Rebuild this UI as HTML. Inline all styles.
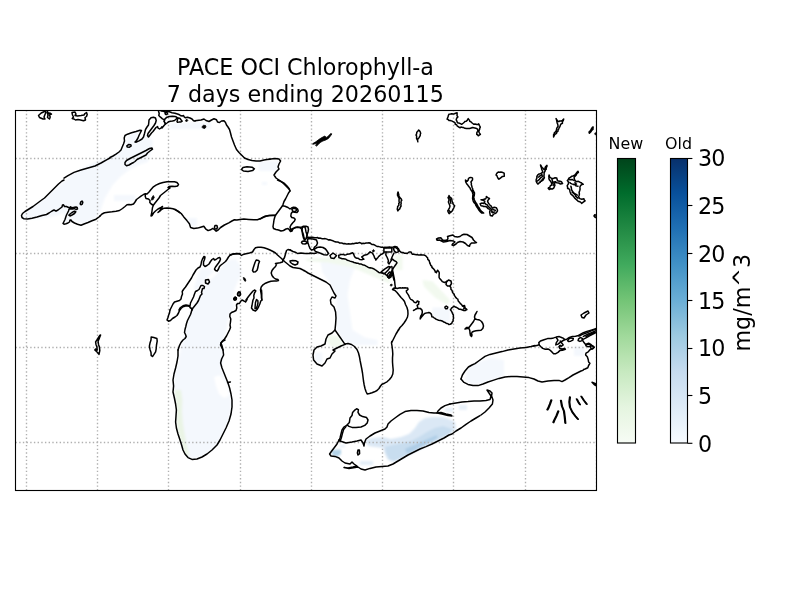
<!DOCTYPE html>
<html lang="en"><head><meta charset="utf-8"><title>PACE OCI Chlorophyll-a</title>
<style>
html,body{margin:0;padding:0;background:#fff;}
body{width:800px;height:600px;overflow:hidden;}
svg{display:block;will-change:transform;}
text{font-family:"DejaVu Sans","Liberation Sans",sans-serif;fill:#000;}
.coast{fill:none;stroke:#000;stroke-width:1.5;stroke-linejoin:round;stroke-linecap:round;}
.grid{stroke:#b0b0b0;stroke-width:1.39;stroke-dasharray:1.39 2.29;fill:none;}
.tick{stroke:#000;stroke-width:1.11;}
.tl{font-size:22.22px;letter-spacing:-0.9px;}
</style></head><body>
<svg width="800" height="600" viewBox="0 0 800 600">
<defs>
<linearGradient id="gB" x1="0" y1="1" x2="0" y2="0"><stop offset="0.0000" stop-color="#f7fbff"/><stop offset="0.0627" stop-color="#eaf3fb"/><stop offset="0.1255" stop-color="#deebf7"/><stop offset="0.1882" stop-color="#d2e3f3"/><stop offset="0.2510" stop-color="#c6dbef"/><stop offset="0.3137" stop-color="#b2d2e8"/><stop offset="0.3765" stop-color="#9dcae1"/><stop offset="0.4392" stop-color="#84bcdb"/><stop offset="0.5020" stop-color="#6aaed6"/><stop offset="0.5647" stop-color="#56a0ce"/><stop offset="0.6275" stop-color="#4191c6"/><stop offset="0.6902" stop-color="#3181bd"/><stop offset="0.7529" stop-color="#2070b4"/><stop offset="0.8157" stop-color="#1460a8"/><stop offset="0.8784" stop-color="#08509b"/><stop offset="0.9412" stop-color="#084082"/><stop offset="1.0000" stop-color="#08306b"/></linearGradient>
<linearGradient id="gG" x1="0" y1="1" x2="0" y2="0"><stop offset="0.0000" stop-color="#f7fcf5"/><stop offset="0.0627" stop-color="#eef8ea"/><stop offset="0.1255" stop-color="#e5f5e0"/><stop offset="0.1882" stop-color="#d6efd0"/><stop offset="0.2510" stop-color="#c7e9c0"/><stop offset="0.3137" stop-color="#b4e1ad"/><stop offset="0.3765" stop-color="#a0d99b"/><stop offset="0.4392" stop-color="#8ace88"/><stop offset="0.5020" stop-color="#73c476"/><stop offset="0.5647" stop-color="#5ab769"/><stop offset="0.6275" stop-color="#40aa5d"/><stop offset="0.6902" stop-color="#319a50"/><stop offset="0.7529" stop-color="#228a44"/><stop offset="0.8157" stop-color="#117b38"/><stop offset="0.8784" stop-color="#006c2c"/><stop offset="0.9412" stop-color="#005723"/><stop offset="1.0000" stop-color="#00441b"/></linearGradient>
<clipPath id="ax"><rect x="15.5" y="110.5" width="581.0" height="380.0"/></clipPath>
<filter id="bl" x="0" y="0" width="800" height="600" filterUnits="userSpaceOnUse"><feGaussianBlur stdDeviation="0.9"/></filter>
</defs>
<rect width="800" height="600" fill="#fff"/>
<text x="305.5" y="75.4" text-anchor="middle" font-size="22.22">PACE OCI Chlorophyll-a</text>
<text x="305.3" y="102.2" text-anchor="middle" font-size="22.22">7 days ending 20260115</text>
<g clip-path="url(#ax)">
<g id="data" filter="url(#bl)">
<path d="M22.0 216.0 L30.0 208.0 L45.0 198.0 L60.0 185.0 L75.0 172.0 L95.0 162.0 L115.0 155.0 L124.0 148.0 L128.0 136.0 L140.0 129.0 L136.0 142.0 L146.0 134.0 L153.0 141.0 L152.0 148.0 L148.0 162.0 L141.0 164.0 L129.0 170.0 L120.0 177.0 L112.0 186.0 L105.0 198.0 L100.0 212.0 L95.0 219.0 L82.0 224.0 L72.0 219.0 L64.0 224.0 L64.0 213.0 L55.0 216.0 L40.0 219.0 L25.0 219.0 Z" fill="#f4f8fd"/>
<path d="M170.0 123.0 L211.0 122.0 L211.0 129.0 L170.0 129.0 Z" fill="#f4f8fd"/>
<path d="M259.0 161.0 L279.0 161.0 L278.0 171.0 L259.0 171.0 Z" fill="#f4f8fd"/>
<path d="M262.0 182.0 L267.0 182.0 L267.0 185.0 L262.0 185.0 Z" fill="#f4f8fd"/>
<path d="M187.0 218.0 L197.0 218.0 L197.0 226.0 L190.0 226.0 Z" fill="#f4f8fd"/>
<path d="M114.0 195.0 L135.0 195.0 L135.0 201.0 L114.0 201.0 Z" fill="#f4f8fd"/>
<path d="M228.0 260.0 L236.0 259.0 L240.0 265.0 L242.0 273.0 L238.0 281.0 L234.0 291.0 L232.0 301.0 L234.0 307.0 L230.0 313.0 L228.0 321.0 L226.0 331.0 L223.0 341.0 L222.0 349.0 L223.0 357.0 L222.0 365.0 L179.0 365.0 L179.0 357.0 L181.0 349.0 L183.0 341.0 L185.0 331.0 L187.0 323.0 L189.6 313.0 L192.4 307.0 L197.0 301.0 L200.0 295.0 L204.0 288.0 L207.0 284.0 L210.0 280.0 L216.0 275.0 L220.0 269.0 L224.0 264.0 Z" fill="#f4f8fd"/>
<path d="M200.0 269.0 L208.0 268.0 L214.0 271.0 L208.0 277.0 L204.0 283.0 L200.0 287.0 L196.0 291.0 L194.0 288.0 L196.0 281.0 L198.0 275.0 Z" fill="#f4f8fd"/>
<path d="M179.0 364.0 L222.0 364.0 L221.0 368.0 L223.0 373.0 L226.0 379.0 L229.0 388.0 L231.0 398.0 L231.4 407.0 L230.0 415.0 L228.0 422.0 L225.0 429.0 L222.0 435.0 L219.0 441.0 L216.0 445.0 L211.0 450.0 L206.0 454.0 L200.0 457.0 L193.0 458.4 L188.4 457.0 L185.6 453.6 L183.0 449.0 L181.0 443.0 L179.0 436.0 L177.0 428.0 L176.4 420.0 L176.8 412.0 L176.0 404.0 L174.4 397.0 L173.6 390.0 L174.0 382.0 L174.4 375.0 L176.0 368.0 Z" fill="#f4f8fd"/>
<path d="M214.0 377.0 L220.0 375.0 L224.0 380.0 L228.0 388.0 L229.0 396.0 L224.0 398.0 L219.0 394.0 L216.0 386.0 Z" fill="#ffffff"/>
<path d="M174.4 390.0 L181.0 390.0 L182.4 400.0 L182.0 412.0 L183.0 424.0 L185.0 436.0 L187.0 446.0 L189.0 455.0 L187.0 456.4 L184.4 453.0 L182.0 446.0 L179.6 438.0 L177.6 430.0 L176.6 420.0 L177.0 410.0 L175.6 400.0 Z" fill="#eaf4e5"/>
<path d="M320.0 260.0 L340.0 260.0 L355.0 267.5 L350.0 280.0 L347.5 295.0 L350.0 312.5 L352.5 330.0 L365.0 337.5 L377.5 340.0 L377.5 345.0 L355.0 345.0 L343.8 341.2 L336.2 330.0 L336.2 312.5 L336.2 297.5 L331.2 285.0 L322.5 272.5 Z" fill="#f4f8fd"/>
<path d="M305.0 258.8 L340.0 257.5 L372.5 267.5 L390.0 277.5 L390.0 283.8 L372.5 276.2 L352.5 267.5 L327.5 262.5 L307.5 261.2 Z" fill="#f2f9ef"/>
<path d="M395.0 255.0 L402.5 255.0 L402.5 270.0 L395.0 270.0 Z" fill="#f2f9ef"/>
<path d="M422.5 280.0 L432.5 281.2 L450.0 300.0 L447.5 305.0 L435.0 297.5 L423.8 286.2 Z" fill="#f2f9ef"/>
<path d="M432.5 307.5 L450.0 307.5 L450.0 322.5 L440.0 321.2 L432.5 315.0 Z" fill="#f4f8fd"/>
<path d="M327.5 335.0 L340.0 336.2 L343.8 346.2 L332.5 347.5 L327.5 342.5 Z" fill="#f2f9ef"/>
<path d="M315.0 352.5 L322.5 352.5 L322.5 362.5 L315.0 362.5 Z" fill="#f4f8fd"/>
<path d="M468.0 368.0 L476.0 363.0 L490.0 358.0 L504.0 360.0 L504.0 376.0 L492.0 380.0 L480.0 384.0 L470.0 384.0 L465.0 380.0 Z" fill="#f4f8fd"/>
<path d="M574.0 346.0 L584.0 346.0 L584.0 356.0 L574.0 356.0 Z" fill="#f4f8fd"/>
<path d="M365.0 440.0 L373.0 438.0 L383.0 437.0 L391.0 439.0 L401.0 437.0 L409.0 434.0 L415.0 428.0 L419.0 422.0 L425.0 418.0 L433.0 417.0 L443.0 417.0 L449.0 419.0 L455.0 422.0 L456.0 429.0 L451.0 433.0 L445.0 437.0 L437.0 441.0 L429.0 445.0 L421.0 449.0 L413.0 453.0 L405.0 457.0 L399.0 460.0 L393.0 462.0 L388.0 460.0 L385.0 454.0 L383.0 448.0 L375.0 447.0 L368.0 446.0 Z" fill="#dbe8f5"/>
<path d="M385.0 447.0 L393.0 445.0 L403.0 443.0 L411.0 441.0 L419.0 437.0 L427.0 432.0 L435.0 428.0 L443.0 426.0 L449.0 428.0 L453.0 430.0 L449.0 434.0 L441.0 438.0 L433.0 442.0 L425.0 446.0 L417.0 450.0 L409.0 454.0 L401.0 458.0 L394.0 461.0 L389.0 459.0 L386.0 453.0 Z" fill="#c8ddef"/>
<path d="M405.0 449.0 L413.0 445.6 L421.0 442.0 L429.0 438.4 L437.0 435.0 L437.4 438.0 L429.0 442.4 L421.0 446.4 L413.0 451.0 L407.0 453.6 Z" fill="#aecde6"/>
<path d="M331.0 450.0 L341.0 449.6 L341.0 454.0 L337.0 457.0 L332.0 455.0 Z" fill="#b3d3e8"/>
<path d="M340.0 445.0 L345.0 445.0 L345.0 447.2 L340.0 447.2 Z" fill="#e4eef8"/>
<path d="M360.0 461.0 L373.0 461.0 L373.0 465.0 L360.0 465.0 Z" fill="#e4eef8"/>
<path d="M445.0 408.0 L453.0 408.0 L453.0 412.0 L445.0 412.0 Z" fill="#e8f1f9"/>
<path d="M459.0 405.0 L467.0 405.0 L467.0 410.0 L459.0 410.0 Z" fill="#e8f1f9"/>
</g>
<g class="grid">
<line x1="26.50" y1="490.5" x2="26.50" y2="110.5"/>
<line x1="97.50" y1="490.5" x2="97.50" y2="110.5"/>
<line x1="168.50" y1="490.5" x2="168.50" y2="110.5"/>
<line x1="240.50" y1="490.5" x2="240.50" y2="110.5"/>
<line x1="311.50" y1="490.5" x2="311.50" y2="110.5"/>
<line x1="382.50" y1="490.5" x2="382.50" y2="110.5"/>
<line x1="453.50" y1="490.5" x2="453.50" y2="110.5"/>
<line x1="525.50" y1="490.5" x2="525.50" y2="110.5"/>
<line x1="596.50" y1="490.5" x2="596.50" y2="110.5"/>
<line x1="15.5" y1="158.50" x2="596.5" y2="158.50"/>
<line x1="15.5" y1="253.50" x2="596.5" y2="253.50"/>
<line x1="15.5" y1="347.50" x2="596.5" y2="347.50"/>
<line x1="15.5" y1="442.50" x2="596.5" y2="442.50"/>
</g>
<g class="coast">
<path d="M45.0 111.2 L41.2 113.0 L38.5 115.5 L39.5 117.5 L43.0 119.0 L45.0 119.0 L44.0 117.0 L45.0 114.5 L46.0 112.2 Z"/>
<path d="M47.0 112.0 L48.0 115.0 L47.5 117.5 L49.5 119.0 L50.2 117.0 L49.5 115.0 L51.5 114.0 L50.0 113.0 L48.5 113.5 L47.5 111.5 Z"/>
<path d="M72.0 112.5 L75.0 112.0 L76.0 114.0 L75.0 115.5 L77.5 116.0 L81.0 115.5 L84.0 115.0 L85.0 113.5 L86.5 112.5 L87.2 114.5 L86.5 116.5 L85.0 117.5 L85.5 120.0 L83.5 120.8 L80.5 120.0 L78.0 119.5 L75.5 120.0 L74.0 119.0 L72.2 118.5 L73.5 117.0 L72.5 115.0 Z"/>
<path d="M64.0 178.2 L68.0 175.6 L74.0 172.4 L81.0 170.0 L88.0 168.0 L95.0 166.0 L101.0 163.0 L107.0 159.6 L110.0 158.0"/>
<path d="M110.0 157.5 L113.0 156.0 L116.0 154.2 L119.0 152.0 L121.0 150.0 L122.0 147.5 L123.5 144.0 L124.5 141.0 L124.2 138.0 L125.0 135.5 L127.5 134.2 L131.5 132.8 L136.0 131.5 L140.0 130.2 L141.5 130.5 L140.5 132.5 L139.2 135.0 L138.0 138.0 L136.5 140.5 L135.0 142.0 L136.2 142.2 L139.0 140.8 L142.0 139.0 L143.5 137.0 L144.5 133.5 L145.5 129.5 L147.0 127.0 L148.5 125.0 L148.8 122.5 L149.0 120.0 L151.0 117.8 L153.5 117.2 L155.5 118.0 L156.2 120.5 L155.5 123.0 L154.0 125.5 L152.5 127.5 L151.0 129.5 L149.5 131.5 L148.0 133.5 L147.5 135.5 L148.5 137.0 L150.0 135.0 L151.5 133.0 L153.0 131.5 L154.5 129.5 L156.0 127.5 L157.5 126.5 L158.0 128.0 L159.5 129.0 L161.0 128.0 L162.0 126.8"/>
<path d="M126.8 145.8 L128.5 144.6 L130.8 144.8 L131.2 146.0 L129.5 147.2 L127.2 147.0 Z"/>
<path d="M125.0 162.5 L126.5 160.5 L130.0 158.5 L134.0 156.5 L138.0 154.5 L142.0 152.5 L146.0 150.5 L149.5 148.5 L152.0 148.0 L152.5 149.2 L150.0 151.0 L147.5 153.0 L146.0 155.0 L143.0 156.5 L140.0 158.0 L137.0 159.5 L135.0 161.5 L133.5 162.5 L131.5 163.5 L129.0 165.0 L126.5 165.8 L125.0 164.5 Z"/>
<path d="M162.0 128.0 L163.0 126.8 L164.5 125.0 L165.5 124.0 L165.0 123.0 L164.2 121.5 L164.5 119.8 L162.5 118.8 L160.5 117.2 L158.8 115.5 L159.2 113.5 L158.5 111.0 L158.2 110.2"/>
<path d="M164.5 119.8 L165.0 118.8 L167.0 117.2 L169.5 116.5 L172.5 116.2 L175.0 116.5 L176.5 117.0 L177.8 118.0 L177.0 118.0 L176.0 119.2 L174.5 120.5 L172.5 121.0 L170.5 121.2 L168.5 121.8 L167.0 123.0 L165.5 124.0 L165.0 123.0 L164.2 121.5 Z"/>
<path d="M177.8 118.0 L179.8 118.2 L181.0 119.8 L182.2 121.2 L181.0 121.9 L179.0 122.1 L177.5 122.2 L177.0 121.5 L177.5 120.0 Z"/>
<path d="M160.0 110.2 L161.5 111.1 L163.5 111.2 L165.0 111.9 L167.2 111.6 L169.5 111.8 L172.0 112.8 L175.0 113.2 L177.5 114.0 L179.5 114.8 L181.0 115.8 L182.2 116.0 L183.5 115.5 L184.2 116.8 L185.5 117.8 L187.5 117.2 L190.0 118.0 L192.0 119.0 L193.5 120.8 L195.0 121.1"/>
<path d="M165.0 112.8 L165.8 112.2 L167.0 112.5 L167.5 113.5 L167.0 114.5 L166.0 114.6 L165.2 113.9 Z"/>
<path d="M195.0 120.8 L197.0 120.5 L201.0 120.0 L204.0 119.0 L206.0 120.5 L209.0 121.5 L211.5 120.0 L214.0 118.8 L216.5 119.8 L217.5 122.0 L219.5 122.5 L221.5 121.0 L224.0 120.8 L225.5 122.5 L226.5 125.0 L228.0 127.0 L229.5 129.5 L230.5 133.0 L231.5 137.0 L233.0 141.0 L234.5 145.0 L236.5 149.5 L239.0 152.5 L242.0 155.5 L244.5 158.0 L248.0 159.5 L252.0 160.5 L256.0 161.0 L260.0 161.0 L264.0 160.0 L267.0 159.5 L270.0 159.3"/>
<path d="M269.0 159.2 L275.0 158.6 L279.0 159.0 L280.6 161.0 L279.0 164.0 L278.0 167.0 L279.0 169.0 L276.0 172.0 L274.0 175.0 L276.0 178.0 L279.0 180.0 L283.0 183.0 L286.0 186.0 L289.0 189.0 L290.0 191.0"/>
<path d="M241.4 169.4 L243.0 167.6 L247.0 166.8 L252.0 167.2 L254.4 168.8 L252.6 170.6 L248.0 171.4 L243.4 171.0 Z"/>
<path d="M277.5 180.0 L281.0 181.5 L284.5 183.5 L287.0 186.0 L289.0 188.5 L290.0 190.8 L288.5 193.0 L287.0 196.0 L285.5 199.0 L284.0 201.5 L283.0 204.5 L282.5 205.8 L279.0 210.5 L275.5 215.2 L274.8 217.0 L274.0 220.0 L273.5 223.5 L273.0 226.5 L273.5 228.5 L276.0 229.5 L278.5 230.0 L281.0 231.0 L283.5 230.5 L286.0 229.0 L288.0 228.5 L289.5 230.0 L290.5 231.5 L292.0 231.0 L293.0 229.0 L295.0 227.5 L297.5 227.0 L300.0 227.5 L301.5 229.0 L302.5 232.0 L303.5 235.0 L304.0 238.0 L304.5 240.0"/>
<path d="M260.0 219.2 L263.0 217.5 L266.0 216.2 L269.5 215.5 L273.0 215.2 L275.5 215.2"/>
<path d="M282.5 205.8 L285.0 206.2 L288.0 207.5 L290.0 209.0 L291.5 208.0 L293.5 207.2 L295.8 207.6 L297.6 209.0 L298.2 211.0 L297.0 212.5 L294.5 212.2 L292.5 211.8 L291.2 213.5 L290.8 216.0 L291.8 217.5 L294.0 218.0 L295.2 219.2 L294.5 221.0 L292.8 222.8 L291.0 225.0 L290.0 227.0 L290.5 229.0 L291.8 230.8"/>
<path d="M64.0 180.0 L62.0 181.0 L58.5 184.0 L55.0 187.5 L51.5 191.0 L48.0 194.5 L44.5 198.0 L41.0 200.5 L37.0 203.5 L33.0 206.5 L29.0 209.0 L25.0 211.5 L22.5 213.5 L21.5 215.5 L22.0 217.5 L24.0 218.8 L27.5 219.0 L32.0 218.2 L37.0 217.0 L42.0 215.5 L46.5 214.5 L49.0 213.0 L52.0 211.0 L54.0 210.0 L56.0 211.2 L58.0 210.0 L60.0 208.5 L62.0 207.0 L62.5 205.0 L63.5 204.8 L64.5 206.5 L66.5 206.5 L68.0 207.2 L69.5 208.0 L70.5 206.8 L71.5 207.5 L73.0 207.8 L74.5 207.2 L76.0 207.0 L77.2 207.5 L77.5 209.0 L76.0 209.5 L74.5 208.5 L72.5 209.0 L70.5 208.8 L69.0 209.2 L68.5 211.0 L67.5 213.0 L66.5 215.0 L65.8 217.0 L65.0 219.5 L64.0 221.5 L63.0 223.5 L64.0 224.2 L66.0 223.8 L68.0 223.0 L69.5 222.0 L70.0 220.0 L71.0 220.0 L72.0 221.5 L74.5 223.0 L77.5 224.2 L81.0 225.2 L84.0 224.0 L88.0 222.5 L92.0 220.8 L96.0 219.2 L99.0 217.0 L100.0 216.0"/>
<path d="M80.2 204.0 L80.8 201.8 L82.0 201.0 L82.8 202.2 L82.2 204.2 L81.0 204.8 Z"/>
<path d="M68.8 215.2 L70.0 214.0 L72.0 212.5 L74.5 211.2 L75.8 211.8 L74.5 213.5 L72.0 215.0 L70.0 216.0 Z"/>
<path d="M100.0 216.0 L102.0 214.0 L104.5 212.8 L108.0 212.2 L112.0 211.8 L116.0 211.2 L119.5 210.5 L122.5 208.5 L125.0 206.5 L127.0 204.8 L129.0 204.5 L131.0 204.8 L133.5 204.0 L135.0 202.0 L136.5 199.5 L138.5 198.0 L141.0 196.2 L143.5 194.5 L145.5 193.7 L147.0 194.0 L149.0 192.0 L151.0 189.5 L153.0 187.2 L156.0 185.2 L159.5 183.5 L163.0 182.5 L167.0 181.8 L171.0 181.7 L174.5 181.8 L177.0 182.5 L178.5 184.5 L177.5 186.0 L175.0 186.5 L172.0 186.2 L169.0 186.5 L168.0 187.5 L170.0 188.0 L168.0 189.5 L165.5 191.5 L163.0 193.5 L160.5 195.5 L159.0 198.0 L157.0 200.5 L155.0 203.0 L153.5 205.0 L152.5 207.5 L152.0 211.0 L151.5 214.0 L151.0 216.0 L152.0 215.5 L153.5 213.0 L155.5 211.0 L158.0 209.0 L160.5 207.8 L162.5 206.5 L161.5 208.5 L159.5 211.0 L158.0 212.5 L159.5 211.5 L161.5 209.5 L164.0 208.2 L167.0 208.0 L170.0 208.2 L173.0 208.8 L175.5 209.8 L177.5 211.2 L180.0 212.8"/>
<path d="M145.5 193.7 L145.2 196.2 L146.0 198.5 L148.5 199.0 L150.0 200.5 L149.8 202.5 L151.2 204.0 L152.8 205.0"/>
<path d="M175.0 209.4 L178.1 211.2 L181.2 213.5 L183.8 216.9 L186.9 220.6 L189.4 223.8 L190.6 227.5 L193.8 228.5 L197.5 228.1 L200.6 227.2 L203.8 226.2 L205.6 228.8 L208.1 230.6 L210.6 229.8 L212.5 228.5 L214.4 229.4 L216.2 231.2 L218.1 230.0 L220.6 227.5 L224.4 225.0 L228.8 222.8 L231.9 221.0 L234.4 219.8 L236.9 220.0 L240.0 219.4 L243.8 219.0 L248.8 219.4 L253.8 219.8 L257.5 219.8 L261.2 218.1 L265.0 216.2 L268.8 215.4 L272.5 215.4 L275.0 215.6"/>
<path d="M214.4 227.5 L215.0 225.6 L216.9 225.6 L217.5 227.5 L216.5 229.0 L215.0 228.8 Z"/>
<path d="M170.0 310.0 L171.5 307.0 L173.0 304.0 L174.5 302.0 L177.0 301.2 L179.5 300.5 L181.0 299.0 L181.5 296.5 L182.5 294.0 L182.2 291.5 L183.5 289.5 L185.5 287.0 L187.5 284.0 L189.5 281.0 L191.5 278.0 L193.0 275.0 L194.5 272.5 L196.0 270.0 L198.0 268.0 L200.0 267.0 L201.0 264.5 L201.5 261.5 L202.5 259.0 L204.0 256.5 L205.0 257.0 L204.5 259.5 L203.5 262.0 L203.5 265.0 L205.0 266.5 L207.0 265.5 L209.0 264.0 L210.5 261.5 L212.0 259.5 L213.5 258.5 L214.5 260.0 L216.0 259.5 L218.0 258.0 L219.8 257.5 L220.5 259.0 L219.8 261.0 L218.5 263.0 L217.0 265.0 L215.5 267.0 L214.5 269.0 L215.5 270.5 L217.2 271.0 L218.5 269.0 L219.5 266.5 L221.0 265.0 L223.0 263.5 L225.5 261.5 L227.0 259.5 L228.5 257.0 L230.0 255.2 L232.5 254.2 L236.0 253.8 L240.0 253.5"/>
<path d="M179.0 310.0 L180.5 307.5 L183.0 305.8 L186.0 305.0 L188.5 305.5 L190.0 306.0 L190.5 303.0 L192.0 300.0 L193.5 297.0 L194.5 294.0 L195.5 291.5 L197.5 290.5 L199.0 289.5 L200.0 287.5 L201.0 285.5 L203.0 285.5 L204.5 286.5 L204.0 288.5 L202.5 288.5 L202.0 290.5 L201.5 292.5 L202.0 294.0 L200.5 295.5 L199.5 298.0 L198.5 300.5 L197.0 303.0 L195.0 305.5 L193.0 308.0 L192.0 310.0"/>
<path d="M205.5 280.0 L208.5 279.5 L209.5 282.0 L208.0 284.0 L205.5 283.0 Z"/>
<path d="M230.0 255.0 L233.0 254.0 L236.5 253.5 L239.5 254.0 L241.5 255.5 L243.0 254.5 L246.0 253.8 L249.5 253.0 L252.5 252.0 L254.0 249.5 L255.5 247.8 L258.0 247.2 L261.0 247.2 L264.0 247.8 L267.0 248.8 L270.0 250.0 L273.0 251.5 L275.5 253.0 L277.5 255.0 L279.5 256.8 L281.5 258.5 L283.0 260.0 L282.5 262.0 L280.0 262.8 L277.0 263.2 L275.5 263.5 L276.5 264.5 L275.5 266.5 L273.5 268.5 L272.0 270.5 L271.2 273.0 L272.0 275.5 L273.5 277.5 L275.5 279.0 L278.0 279.5 L278.5 280.5 L276.5 281.0 L274.0 281.0 L271.0 281.2 L268.5 282.0 L265.5 283.2 L263.0 284.8 L261.2 287.0 L260.5 290.0 L261.0 293.0 L261.5 296.0 L261.8 300.0"/>
<path d="M283.0 260.0 L284.5 257.5 L285.5 254.0 L286.5 250.5 L288.0 249.5 L290.5 250.0"/>
<path d="M283.0 260.0 L284.5 261.5 L287.0 263.5 L290.0 266.0 L293.0 267.5 L296.5 268.0 L300.0 268.5 L303.0 270.0 L304.2 270.8"/>
<path d="M290.0 261.0 L292.5 260.5 L296.0 260.8 L298.0 262.0 L297.5 264.0 L295.0 265.0 L292.5 264.0 L290.5 262.5 Z"/>
<path d="M256.2 260.0 L258.5 260.5 L259.5 261.5 L258.5 264.0 L258.0 267.0 L257.2 270.0 L255.5 271.8 L253.5 272.0 L252.5 270.5 L253.2 268.0 L254.0 265.5 L255.0 262.5 Z"/>
<path d="M237.5 294.0 L238.5 292.0 L240.0 292.0 L240.5 294.0 L239.5 295.8 L238.0 295.5 Z"/>
<path d="M234.2 298.2 L235.2 297.2 L236.2 298.0 L235.6 299.2 L234.5 299.2 Z"/>
<path d="M261.8 300.0 L261.5 297.5 L261.8 294.0 L261.5 290.0"/>
<path d="M246.0 300.0 L248.5 296.5 L250.5 294.0 L253.0 291.0 L254.5 290.0 L255.8 290.8 L254.5 293.0 L253.8 295.5 L254.0 298.0 L253.0 300.0 L252.5 302.5 L252.0 305.5 L251.5 308.0 L253.0 310.0 L255.5 311.0 L257.0 309.5 L258.5 307.0 L259.8 304.0 L260.8 301.0 L261.8 300.0"/>
<path d="M247.0 299.5 L245.5 302.0 L244.0 301.0 L242.0 300.0 L240.5 301.5 L239.5 303.5 L237.5 303.5 L236.5 305.0 L236.8 308.0 L236.0 310.5 L234.0 311.5 L231.5 312.5 L230.0 314.0 L229.8 316.5 L230.8 319.0 L230.5 322.0 L230.0 325.0 L230.5 327.5 L229.5 330.0 L228.0 333.0 L226.5 336.0 L224.5 339.0 L222.5 341.0 L220.8 343.0 L220.5 345.0 L221.5 347.0 L222.5 349.0 L223.0 350.0"/>
<path d="M256.5 299.5 L257.8 300.5 L258.0 303.0 L257.2 306.0 L256.2 308.8 L255.0 308.5 L255.2 305.5 L255.5 302.5 Z"/>
<path d="M237.5 294.0 L238.5 292.2 L240.0 292.5 L240.5 294.5 L239.5 295.8 L238.0 295.5 Z"/>
<path d="M233.8 298.5 L234.8 297.2 L236.2 297.8 L236.2 299.5 L235.0 300.2 L234.0 299.8 Z"/>
<path d="M170.0 310.0 L169.5 313.0 L168.5 315.5 L167.8 318.0 L167.0 320.0 L168.5 321.2 L170.5 320.5 L172.5 318.5 L175.0 317.0 L177.0 315.5 L178.5 313.0 L179.5 310.5 L181.0 308.5 L183.0 306.8 L185.5 306.0 L188.0 305.8 L189.5 306.5 L190.5 308.0 L192.0 308.5"/>
<path d="M192.0 308.5 L191.5 311.5 L190.5 314.5 L189.0 317.5 L187.5 320.5 L186.5 323.5 L185.8 326.5 L185.0 329.5 L184.5 332.5 L185.5 334.5 L186.2 336.5 L185.0 338.5 L183.0 340.0 L181.0 342.5 L179.5 345.5 L178.5 348.5 L178.0 350.0"/>
<path d="M192.0 310.0 L192.0 308.5"/>
<path d="M151.2 336.9 L153.8 337.5 L156.9 338.5 L157.2 341.2 L156.5 345.0 L156.2 348.8 L155.6 351.9 L154.0 354.4 L152.5 356.5 L151.2 355.6 L151.0 352.5 L150.0 349.4 L149.4 346.2 L150.0 343.1 L151.0 340.0 Z"/>
<path d="M178.0 350.0 L178.0 356.0 L177.0 362.0 L175.6 368.0 L174.0 374.0 L173.0 380.0 L173.6 386.0 L173.0 392.0 L174.4 398.0 L175.6 404.0 L176.4 410.0 L176.0 416.0 L175.6 422.0 L176.4 428.0 L178.0 434.0 L180.0 440.0 L181.6 445.0 L183.0 450.0 L185.0 454.0 L188.0 457.6 L192.0 459.4 L197.0 459.0 L202.0 457.0 L207.0 454.0 L212.0 450.0 L217.0 445.0 L220.0 440.0 L223.0 434.0 L226.0 428.0 L229.0 421.0 L231.0 414.0 L232.0 407.0 L232.0 400.0 L231.0 394.0 L229.6 388.0 L228.0 383.0 L226.0 378.0 L224.0 373.0 L222.0 368.0 L220.6 363.0 L221.6 359.0 L223.6 355.0 L223.0 350.0 L222.0 346.0 L221.0 343.0 L223.0 341.0 L225.0 340.0"/>
<path d="M227.6 382.6 L230.4 382.0"/>
<path d="M306.5 237.5 L307.4 237.4 L308.4 237.2 L310.1 237.5 L311.0 237.3 L312.0 237.2 L313.7 237.5 L314.7 237.7 L316.4 237.8 L317.8 237.5 L318.4 238.2 L319.9 238.1 L321.3 238.4 L322.2 238.7 L323.8 238.8 L325.1 238.6 L326.2 238.9 L327.4 239.4 L328.7 240.0 L329.7 239.7 L331.4 240.3 L332.7 240.7 L333.7 241.2 L335.2 241.7 L336.0 242.0 L337.3 242.1 L338.4 242.2 L339.7 243.1 L341.4 242.9 L342.4 243.3 L343.7 243.8 L344.8 243.5 L346.4 244.1 L347.5 244.0 L348.5 243.8 L350.1 243.9 L351.0 244.1 L352.4 243.5 L353.5 243.8 L355.3 243.2 L356.2 243.0 L357.6 243.2 L359.2 242.6 L360.7 242.9 L361.8 243.8 L363.0 243.2 L364.4 243.4 L366.0 243.1 L367.7 243.0 L368.9 242.8 L370.0 243.0"/>
<path d="M310.0 253.0 L314.0 253.5 L316.5 253.0"/>
<path d="M290.0 250.0 L293.0 251.5 L296.0 252.5 L297.5 253.5 L301.0 253.0 L305.0 253.5 L310.0 253.5"/>
<path d="M290.0 230.0 L293.0 228.5 L296.0 227.5 L300.0 227.5 L302.0 227.0 L303.5 226.2 L306.0 226.2 L308.0 227.0 L308.5 229.5 L308.0 232.0 L307.0 235.0 L306.5 237.5"/>
<path d="M302.5 227.0 L302.0 230.0 L302.5 234.0 L303.5 238.0 L305.0 240.0 L306.5 238.0 L307.2 235.0 L306.0 232.0 L305.5 229.0 L305.0 227.0 Z"/>
<path d="M302.0 241.5 L303.5 241.0 L306.0 241.5 L307.5 243.0 L305.0 244.0 L302.5 243.8 L301.5 242.5 Z"/>
<path d="M308.0 238.5 L313.0 239.0 L316.5 240.0 L317.5 243.0 L316.5 245.5 L314.5 247.0 L313.5 249.5 L311.5 250.0 L310.0 248.5 L309.0 246.0 L308.0 243.0 L307.5 240.5 Z"/>
<path d="M314.5 249.0 L317.0 247.5 L320.0 247.0 L323.0 247.5 L325.5 249.0 L327.0 251.0 L328.5 253.5 L327.0 255.0 L324.0 254.8 L321.0 253.5 L318.5 252.5 L316.2 251.8 L314.5 250.5 Z"/>
<path d="M330.0 255.5 L333.0 253.0 L336.5 255.5 L334.0 258.5 L331.0 258.0 Z"/>
<path d="M370.0 267.8 L368.4 267.5 L367.5 266.8 L366.2 266.1 L364.8 265.3 L363.3 265.1 L361.8 264.3 L360.6 263.9 L359.3 263.9 L357.9 263.3 L356.8 263.3 L355.2 262.8 L354.0 262.5 L353.0 261.9 L351.4 261.6 L350.0 261.1 L348.7 260.6 L347.2 260.2 L346.1 259.4 L345.0 258.9 L343.4 258.7 L341.7 258.7 L340.8 258.2 L338.9 257.6 L338.7 255.2 L339.7 255.0 L340.6 254.6 L342.3 254.5 L343.2 254.4 L344.6 255.0 L346.3 254.7 L347.3 254.2 L349.2 254.1 L350.1 253.7 L351.2 253.2 L352.6 252.7 L353.4 253.8 L353.9 254.8 L354.4 256.4 L355.3 257.5 L356.5 258.2 L358.2 258.2 L359.3 259.2 L359.9 259.6 L362.2 259.7 L363.0 259.2 L363.9 259.2 L363.0 258.3 L361.8 256.9 L362.9 256.2 L364.0 255.3 L365.2 255.0 L367.3 254.5 L368.1 253.9 L368.7 253.1 L370.0 252.0"/>
<path d="M370.0 243.2 L371.1 243.9 L372.2 244.6 L373.5 244.5 L374.8 245.2 L376.0 245.9 L377.4 246.6 L378.8 246.6 L379.9 246.9 L381.2 247.3 L382.4 247.2 L383.6 247.6 L385.1 247.3 L386.4 247.6 L386.9 247.2 L388.1 247.2 L389.4 247.0 L390.8 247.3 L392.1 247.3 L393.3 247.0 L394.9 246.4 L397.1 247.0 L397.4 248.0 L398.5 248.7 L399.2 250.2 L399.6 251.1 L400.4 251.5 L401.2 252.5 L403.0 252.5 L404.3 253.2 L406.1 253.2 L407.6 253.4 L408.4 252.4 L409.5 251.9 L411.1 252.1 L411.6 253.0 L412.2 254.3 L413.7 254.3 L415.0 254.4 L416.1 254.8 L417.5 254.8 L418.7 255.1 L419.7 255.0 L421.0 254.7 L422.3 254.9 L424.0 255.0 L425.4 255.6 L426.8 257.1 L427.6 257.8 L427.8 259.4 L429.2 260.6 L429.3 261.5 L430.0 263.1"/>
<path d="M383.9 248.1 L391.8 248.1 L391.8 251.9 L383.9 251.9 Z"/>
<path d="M386.1 252.2 L385.8 254.9 L387.2 257.5 L388.4 260.5 L388.0 262.8 L389.1 263.9 L391.0 260.9 L392.5 259.0 L394.0 260.5 L396.2 261.6 L397.0 262.8 L395.5 265.0 L394.0 267.2 L392.5 269.5 L391.4 271.8 L390.2 274.0 L389.1 275.9 L388.0 277.0 L388.8 278.1 L390.6 277.4 L391.8 275.1 L392.5 272.5 L392.9 275.5 L393.6 278.5 L394.0 280.0"/>
<path d="M381.2 271.8 L385.0 268.8 L388.8 266.5 L390.6 266.9 L388.0 270.2 L385.0 273.2 L382.0 272.9 Z"/>
<path d="M370.0 267.8 L371.3 267.9 L372.9 268.5 L373.8 268.9 L375.0 269.7 L376.1 270.3 L376.8 270.9 L377.8 271.6 L378.8 272.4 L380.1 272.7 L381.4 272.7 L382.4 273.0 L383.6 273.8 L385.3 274.0 L386.1 274.9 L387.0 275.8 L388.0 277.0"/>
<path d="M370.0 252.0 L371.1 252.5 L372.3 252.9 L373.0 254.2 L373.7 255.3 L374.4 257.0 L374.5 257.7 L375.6 259.0 L375.8 260.0 L377.2 258.3 L378.0 257.4 L378.8 256.4 L379.8 255.5 L380.9 254.5 L382.2 253.9 L383.9 252.6"/>
<path d="M394.0 253.0 L392.5 256.0 L391.0 259.8"/>
<path d="M393.2 248.1 L395.5 247.4 L397.8 249.2 L398.5 251.9 L396.2 252.6 L394.4 251.1 Z"/>
<path d="M391.8 266.5 L392.5 270.0 L393.5 275.0 L394.5 280.0 L395.0 285.0 L395.5 288.0"/>
<path d="M393.5 288.5 L395.0 288.1 L396.2 288.2 L397.3 288.4 L398.9 288.0 L400.2 287.8 L401.3 288.1 L402.6 287.7 L403.9 287.9 L404.9 287.7 L406.1 288.0 L407.7 288.1 L408.0 289.5 L406.3 290.9 L406.6 292.4 L407.3 293.4 L408.0 294.4 L408.8 295.7 L409.3 297.0 L410.2 298.6 L410.8 299.4 L412.2 300.0 L413.2 300.8 L414.1 302.2 L415.1 302.4 L415.9 302.8 L416.7 302.1 L417.3 300.9 L419.1 301.6 L418.6 302.8 L418.7 304.2 L417.1 305.4 L417.6 306.8 L417.9 308.2 L417.1 308.3 L415.8 309.0 L415.0 309.7 L413.5 310.5 L415.0 309.7 L416.6 308.9 L418.0 308.4 L419.1 308.6 L420.3 308.4 L422.0 310.1 L422.3 311.6 L422.2 313.0 L421.7 314.7 L420.9 315.8 L420.3 317.7 L420.2 319.0 L420.7 318.1 L421.7 316.8 L422.6 315.8 L423.6 314.6 L424.6 313.5 L425.9 313.1 L427.6 312.8 L428.9 312.5 L430.2 313.0 L431.1 313.9 L431.6 315.1 L431.8 316.7 L433.1 317.0 L434.0 317.8 L435.0 318.4 L436.0 319.2 L437.2 319.6 L438.5 320.2 L440.2 320.4 L441.4 320.8 L442.8 321.3 L444.0 322.2 L444.9 322.3 L446.1 323.2 L447.0 323.4 L448.2 323.9 L448.8 324.5 L450.1 324.2 L451.7 323.5 L452.2 322.0 L453.1 321.1 L453.1 319.3 L453.6 318.2 L453.3 316.5 L453.4 315.0 L452.6 313.8 L452.1 312.4 L451.4 311.1 L450.4 309.8 L451.1 309.0 L451.5 308.1 L452.5 307.3 L453.9 306.3 L455.4 307.0 L456.7 307.5 L457.7 308.2 L459.0 309.2 L460.4 309.3 L461.9 309.8 L463.7 310.5 L465.0 310.5"/>
<path d="M444.8 307.0 L446.2 306.0 L447.8 307.2 L447.2 308.8 L445.5 308.8 Z"/>
<path d="M450.0 286.5 L450.9 287.5 L450.9 289.3 L452.1 290.6 L452.4 291.9 L452.6 292.4 L453.9 293.9 L454.2 294.2 L454.4 295.4 L455.7 297.4 L456.8 298.5 L457.8 299.2 L458.2 300.9 L459.1 301.9 L460.5 303.7 L461.1 304.2 L462.3 305.6 L463.1 306.3 L464.6 307.8 L466.2 308.9 L466.9 309.6 L465.0 310.5"/>
<path d="M446.5 282.0 L448.5 280.0 L451.0 281.0 L451.5 283.5 L450.0 286.0 L447.5 286.0 L446.0 284.5 Z"/>
<path d="M395.5 288.0 L393.5 288.5 L392.5 289.5 L395.0 290.5 L397.0 292.5 L399.0 295.0 L401.0 297.5 L403.0 299.5 L404.5 301.5 L405.5 304.5 L407.0 307.5 L407.8 310.5 L408.0 314.0 L407.5 317.0 L406.0 320.0 L404.0 323.0 L402.0 325.5 L400.0 327.5 L398.5 330.0"/>
<path d="M387.5 274.5 L389.5 272.0 L391.5 272.5 L390.5 275.5 L389.0 278.0 L387.8 277.0 Z"/>
<path d="M436.5 239.0 L438.5 238.0 L441.0 237.8 L442.5 240.0 L445.0 240.5 L447.5 239.8 L448.0 238.0 L447.5 236.5 L450.0 235.8 L453.0 235.0 L454.5 236.5 L457.5 237.0 L460.0 236.5 L462.0 235.0 L464.0 234.2 L467.0 234.5 L469.5 236.0 L472.0 237.5 L473.5 240.0 L475.0 241.5 L476.5 242.5 L474.5 243.0 L471.5 243.0 L470.0 244.5 L469.5 246.2 L467.5 245.5 L465.5 243.5 L463.0 242.0 L460.0 241.5 L457.5 242.5 L456.0 244.0 L453.5 245.5 L452.0 245.0 L453.0 243.5 L455.0 242.0 L453.5 241.0 L450.0 240.5 L446.5 241.5 L443.5 242.0 L441.5 241.0 L439.5 240.0 L437.0 240.2 Z"/>
<path d="M430.0 263.5 L430.3 264.1 L430.8 265.4 L431.9 266.3 L431.9 267.4 L433.3 268.6 L434.3 269.8 L435.2 271.1 L435.1 271.8 L436.4 272.7 L436.7 271.8 L437.6 270.2 L439.1 272.1 L439.3 273.5 L439.1 274.9 L439.1 276.6 L439.1 277.5 L439.5 278.2 L440.2 279.1 L441.3 280.2 L442.3 281.6 L443.9 282.2 L444.8 282.6 L446.2 281.6 L447.0 281.0"/>
<path d="M475.0 319.0 L477.0 319.5 L479.5 320.0 L481.5 321.5 L482.8 323.5 L483.5 326.0 L482.8 328.5 L481.0 330.2 L478.5 330.5 L476.0 330.8 L474.0 331.2 L472.2 332.0 L471.5 333.5 L472.0 335.0 L471.5 336.5 L470.5 335.5 L470.0 333.0 L469.8 330.5 L469.0 328.5 L467.0 328.5 L465.0 329.0 L466.5 327.5 L469.0 327.5 L470.5 325.5 L472.0 323.5 L473.5 321.5 L474.5 319.5 Z"/>
<path d="M477.0 311.5 L476.2 313.0 L475.0 315.0 L474.5 317.0 L475.0 319.0"/>
<path d="M462.5 306.0 L464.5 305.5 L465.0 307.5 L463.5 309.0"/>
<path d="M304.0 270.4 L308.0 273.0 L314.0 276.0 L320.0 279.0 L326.0 282.0 L330.0 285.0 L332.0 289.0 L334.0 293.0 L336.0 296.0 L335.0 298.0 L332.0 297.0 L330.4 300.0 L331.0 304.0 L334.0 307.0 L335.6 312.0 L336.0 318.0 L335.6 324.0 L335.0 330.0 L345.0 344.4"/>
<path d="M335.0 330.0 L332.0 333.0 L328.0 335.0 L326.0 339.0 L325.0 344.0 L321.0 346.0 L317.0 347.0 L314.0 350.0 L313.0 355.0 L313.6 360.0 L317.0 364.0 L322.0 366.0 L325.0 363.0 L327.0 359.0 L330.0 358.0 L332.0 354.0 L335.0 351.0 L333.0 350.0 L337.0 348.0 L341.0 346.0 L345.0 344.4"/>
<path d="M398.4 330.0 L396.0 334.0 L394.0 338.0 L392.0 342.0"/>
<path d="M345.0 344.0 L348.0 343.5 L351.5 344.5 L354.5 346.5 L357.0 349.5 L358.5 353.0 L359.5 357.0 L360.2 361.0 L361.0 365.0 L361.8 369.0 L362.5 373.0 L363.0 377.0 L363.5 381.0 L364.2 385.0 L365.0 388.5 L366.0 391.5 L367.2 394.0 L369.5 393.5 L372.0 392.8 L374.5 391.8 L377.0 390.5 L379.0 388.5 L380.5 386.0 L382.0 384.2 L384.5 383.2 L387.0 381.8 L389.5 379.5 L391.5 377.0 L392.8 374.0 L393.2 370.0 L392.8 366.0 L392.5 362.0 L392.5 358.0 L392.8 354.0 L392.5 350.0 L392.0 346.0 L391.5 343.0 L391.8 341.5"/>
<path d="M339.0 441.0 L340.0 438.0 L341.0 434.0 L342.0 430.0 L344.0 427.0 L347.0 425.0 L349.4 422.4 L350.0 418.0 L352.0 415.6 L352.6 412.4 L354.4 410.4 L356.6 408.8 L358.4 409.6 L358.0 412.4 L359.6 415.0 L362.6 416.6 L366.6 417.6 L368.0 420.0 L367.2 423.0 L364.8 425.4 L361.0 427.0 L356.0 427.4 L352.0 427.4 L349.0 426.4 L347.0 425.0"/>
<path d="M339.0 440.0 L340.0 441.0 L346.0 443.0 L352.0 442.0 L357.0 441.0 L361.0 440.0 L363.0 443.0 L364.0 446.0 L364.4 443.0 L366.0 439.0 L370.0 436.0 L375.0 433.0 L380.0 431.0 L385.0 429.0 L387.0 427.0 L388.0 424.0 L391.0 421.0 L395.0 418.0 L400.0 414.4 L405.0 411.6 L411.0 410.4 L417.0 410.4 L423.0 411.0 L429.0 412.4 L434.0 413.0 L437.0 413.0 L438.0 411.0 L441.0 408.0 L445.0 405.6 L450.0 404.0"/>
<path d="M437.0 413.0 L442.0 414.0 L448.0 415.4 L452.0 416.0 L451.0 415.0 L446.0 414.0 L441.0 412.4 Z"/>
<path d="M339.0 440.0 L337.0 444.0 L334.0 448.0 L331.0 452.0 L329.6 454.0 L331.0 456.0 L335.0 456.4 L339.0 458.0 L342.0 461.0 L345.0 463.0 L350.0 464.0 L352.0 462.0 L354.0 464.0 L357.0 466.0 L353.0 467.0 L348.0 468.0 L344.0 467.6 L349.0 468.4 L355.0 467.6 L358.0 467.0 L361.0 469.0 L365.0 470.0 L370.0 468.4 L376.0 467.0 L382.0 466.4 L388.0 466.0 L393.0 464.0 L398.0 461.0 L403.0 458.0 L408.0 455.0 L414.0 452.0 L420.0 449.0 L426.0 446.6 L432.0 444.0 L438.0 441.0 L444.0 438.0 L449.0 435.0 L452.0 434.0 L456.0 431.0 L461.0 428.0 L466.0 424.4 L471.0 421.0 L476.0 418.0 L480.0 415.6"/>
<path d="M357.4 453.0 L358.0 450.0 L359.4 450.0 L359.6 453.6 L358.0 455.0 Z"/>
<path d="M461.0 379.0 L462.4 375.0 L465.0 371.0 L468.4 367.0 L472.0 365.0 L475.0 363.6 L480.0 360.0 L485.0 356.4 L490.0 354.4 L496.0 353.0 L502.0 351.6 L508.0 350.0 L514.0 349.0 L520.0 348.0 L526.0 347.6 L531.0 346.6 L535.0 345.6"/>
<path d="M583.0 370.4 L581.0 371.0 L577.0 373.0 L573.0 375.0 L569.0 377.6 L565.0 380.0 L562.0 381.6 L559.0 380.4 L554.0 380.4 L548.0 381.0 L542.0 382.0 L538.0 381.0 L534.0 379.0 L529.0 377.6 L523.0 377.0 L517.0 376.4 L511.0 376.4 L505.0 377.0 L499.0 378.4 L493.0 380.4 L488.0 382.0 L483.0 384.0 L478.0 385.6 L473.0 385.6 L468.0 384.4 L464.0 382.4 L461.0 379.0"/>
<path d="M597.0 384.4 L594.4 383.2 L592.0 382.2 L594.4 384.8 L597.0 386.0"/>
<path d="M581.0 315.0 L584.0 313.0 L588.0 311.0 L589.0 313.0 L586.0 315.0 L584.0 318.0 L582.0 317.6 Z"/>
<path d="M551.0 400.0 L549.6 404.0 L548.0 408.0 L547.0 409.6"/>
<path d="M558.0 411.0 L556.0 416.0 L554.0 420.0 L553.0 422.4"/>
<path d="M560.6 400.4 L561.6 406.0 L563.6 411.0 L564.4 417.0 L565.0 423.0"/>
<path d="M569.6 397.0 L569.0 402.0 L569.6 407.0 L572.0 412.0 L575.0 416.0 L577.6 419.0"/>
<path d="M576.4 399.0 L578.0 402.0 L579.6 404.4"/>
<path d="M581.0 396.4 L583.6 400.4 L586.4 404.0"/>
<path d="M450.0 404.0 L456.0 403.0 L462.0 402.0 L468.0 401.6 L474.0 401.0 L480.0 401.0 L486.0 400.4 L490.0 399.6 L491.0 396.0 L489.0 393.0 L487.0 390.0 L490.0 391.0 L492.0 393.0 L491.6 396.0 L493.0 400.0 L492.4 404.0 L489.0 408.0 L485.0 412.0 L481.0 415.0"/>
<path d="M100.6 335.0 L99.4 338.1 L98.1 341.2 L98.5 344.4 L99.4 346.9 L99.8 350.6 L99.0 354.4 L97.8 352.8 L96.2 351.2 L94.8 350.0 L95.6 349.0 L97.2 350.0 L96.9 346.9 L96.0 344.4 L95.6 341.9 L96.9 340.0 L98.5 337.5 L100.0 335.2 Z"/>
<path d="M447.0 119.0 L447.4 118.3 L448.1 116.8 L448.2 116.0 L448.9 114.3 L450.5 114.1 L451.7 113.8 L453.3 114.1 L454.4 113.8 L455.6 113.3 L457.1 112.8 L457.1 114.4 L457.0 115.6 L457.9 116.9 L456.9 117.9 L456.5 118.8 L456.2 119.8 L456.9 121.2 L457.0 121.6 L457.6 122.8 L459.5 123.3 L460.9 123.9 L461.6 124.3 L463.4 123.0 L464.3 122.2 L464.7 121.6 L466.2 121.3 L467.4 120.1 L468.2 118.6 L469.4 120.1 L469.8 121.3 L471.4 122.2 L472.1 123.0 L472.8 123.5 L473.9 124.3 L475.0 124.0 L476.9 124.4 L478.1 124.4 L478.7 123.9 L479.5 125.6 L480.3 127.1 L479.6 128.6 L479.6 129.5 L478.9 131.0 L479.1 132.6 L479.9 133.6 L480.4 134.4 L479.3 135.0 L478.3 135.8 L477.8 135.0 L476.7 134.4 L476.9 132.4 L477.6 131.3 L477.9 130.4 L477.7 129.3 L476.5 128.4 L474.9 128.1 L474.0 127.8 L472.3 127.5 L471.2 128.1 L469.6 128.5 L469.0 128.5 L467.7 128.5 L466.4 128.5 L464.9 128.3 L463.6 127.6 L462.7 127.4 L461.0 127.1 L460.2 127.8 L459.0 127.3 L458.2 126.6 L457.1 125.8 L456.6 124.7 L455.2 124.3 L455.2 123.0 L454.1 122.1 L452.6 121.3 L452.3 121.1 L450.1 120.5 L449.0 120.6 L448.1 119.5 Z"/>
<path d="M416.0 135.0 L416.6 133.8 L416.8 132.2 L418.0 131.0 L418.7 130.0 L419.6 130.8 L420.2 131.8 L420.7 133.4 L420.3 134.1 L420.2 135.6 L419.6 136.7 L418.9 138.0 L418.1 138.6 L417.5 140.3 L417.9 141.8 L417.5 140.1 L416.6 138.7 L416.6 137.2 L416.6 135.9 Z"/>
<path d="M398.0 192.0 L398.3 193.1 L398.8 194.4 L398.8 196.1 L399.5 196.9 L400.4 198.2 L401.0 198.6 L401.8 200.4 L401.2 200.8 L401.0 202.5 L401.2 203.3 L400.8 204.9 L401.1 206.0 L400.0 207.8 L400.0 208.6 L398.5 209.9 L397.9 210.9 L397.2 209.1 L397.6 207.6 L397.6 206.7 L398.4 205.6 L398.9 205.2 L398.7 203.5 L399.4 202.8 L399.1 201.8 L399.0 200.0 L399.3 198.6 L398.7 197.8 L398.0 196.3 L397.5 195.2 L397.6 193.4 Z"/>
<path d="M496.0 175.0 L496.7 173.5 L497.2 172.9 L498.3 172.0 L499.2 172.3 L501.0 172.1 L502.0 172.2 L503.7 172.9 L504.2 173.3 L504.2 174.5 L504.3 176.3 L502.4 176.4 L501.6 177.2 L500.4 178.1 L498.9 179.2 L498.1 178.4 L497.4 177.0 L497.0 175.8 Z"/>
<path d="M556.0 118.6 L557.1 120.1 L557.6 121.0 L558.8 121.7 L559.8 120.9 L561.4 120.9 L562.5 120.3 L563.7 119.0 L563.1 121.0 L562.4 121.5 L562.4 123.4 L561.0 124.0 L560.5 124.8 L560.0 126.4 L559.9 126.7 L559.2 127.6 L558.8 128.9 L558.2 129.6 L557.9 131.4 L556.7 132.2 L556.6 133.3 L555.2 134.2 L554.4 135.1 L553.6 137.0 L553.6 134.6 L554.0 134.2 L554.5 132.4 L555.3 132.1 L556.4 130.4 L556.5 129.7 L556.7 128.3 L557.4 127.2 L558.1 126.3 L557.7 124.1 L557.2 123.1 L557.0 122.1 L556.8 121.1 L556.4 119.4 Z"/>
<path d="M589.0 132.0 L589.8 131.3 L590.7 130.2 L591.3 129.0 L592.2 127.8 L592.6 127.0 L593.2 127.0 L592.9 128.0 L593.1 129.2 L592.3 129.8 L591.5 130.7 L590.9 131.8 L589.4 133.3 Z"/>
<path d="M465.5 180.1 L467.2 181.3 L468.2 180.0 L468.5 178.5 L469.4 177.7 L470.8 177.4 L472.4 177.9 L472.6 179.2 L472.4 180.1 L470.9 181.9 L471.4 183.3 L471.3 184.5 L471.8 186.2 L472.1 187.5 L472.7 188.8 L472.8 189.8 L473.5 191.0 L473.9 192.0 L474.5 193.0 L474.4 194.3 L474.2 195.8 L473.5 197.2 L474.0 198.2 L474.3 199.7 L474.8 200.8 L475.2 201.8 L476.2 203.1 L476.8 204.0 L477.5 205.4 L478.2 206.6 L479.2 207.9 L479.9 209.5 L480.7 210.4 L481.9 211.7 L482.5 212.2 L483.7 213.1 L481.6 213.0 L480.5 211.9 L479.9 211.4 L478.8 210.0 L478.0 208.6 L477.1 207.4 L476.2 205.9 L475.7 205.1 L475.4 203.8 L474.6 203.2 L473.5 201.8 L473.1 200.7 L472.9 199.7 L472.6 198.7 L472.7 196.8 L472.8 195.6 L473.0 194.1 L472.6 193.1 L472.3 191.9 L471.4 190.5 L470.6 189.5 L470.2 188.3 L469.2 187.1 L468.6 186.2 L467.8 185.1 L466.8 184.0 L465.7 181.8 Z"/>
<path d="M449.0 195.5 L449.9 197.3 L451.5 198.1 L451.9 199.9 L452.1 201.4 L452.4 202.0 L453.2 204.2 L453.6 204.8 L454.7 205.8 L453.8 207.8 L452.7 209.8 L452.2 211.0 L451.2 211.9 L450.2 212.7 L449.1 213.6 L448.0 211.7 L447.8 210.7 L448.5 209.7 L449.5 207.8 L450.0 206.1 L449.3 204.3 L448.4 202.0 L448.7 201.0 L449.0 200.2 L448.9 199.0 L448.0 197.6 L448.9 196.4 Z"/>
<path d="M449.4 196.6 L450.0 197.7 L450.0 198.8 L450.4 200.2 L450.5 201.4 L450.6 202.4 L450.9 203.4"/>
<path d="M449.0 210.5 L450.5 212.0"/>
<path d="M480.1 203.8 L481.7 203.1 L482.9 203.2 L484.0 203.4 L484.8 201.2 L483.2 200.3 L481.0 199.7 L482.1 199.7 L483.6 199.6 L484.7 199.0 L485.6 198.9 L486.1 198.0 L486.4 196.5 L488.2 197.9 L489.5 198.5 L488.0 200.2 L487.6 201.1 L487.9 202.2 L488.3 203.0 L489.4 204.4 L489.9 205.0 L491.2 206.1 L491.8 207.2 L492.5 208.1 L494.2 207.3 L496.3 207.7 L497.5 210.0 L497.4 211.1 L496.8 212.0 L495.7 213.4 L493.5 214.1 L492.3 216.0 L490.3 215.5 L490.1 214.3 L489.7 212.5 L489.7 211.5 L490.2 210.8 L489.8 209.3 L488.5 208.9 L487.5 208.1 L486.7 207.0 L485.5 206.5 L483.7 206.5 L482.5 205.9 L481.0 205.8 Z"/>
<path d="M485.0 203.4 L486.1 204.4 L487.4 205.0 L488.1 206.4 L489.6 207.6 L490.7 208.6 L491.8 209.8 L491.8 211.2 L492.5 212.8"/>
<path d="M492.5 209.0 L493.5 209.7 L494.3 209.9 L495.5 210.5"/>
<path d="M491.8 212.0 L493.3 212.2 L494.8 212.0"/>
<path d="M540.5 164.9 L541.5 166.4 L541.8 167.5 L542.9 168.1 L544.0 169.7 L544.9 168.3 L545.5 166.8 L547.0 165.4 L546.9 166.7 L546.1 167.9 L546.3 169.2 L545.4 169.9 L545.0 171.3 L544.6 171.8 L544.1 173.4 L544.1 174.9 L543.9 176.3 L544.4 177.5 L543.7 178.8 L542.8 180.3 L541.8 180.9 L540.4 181.7 L539.9 182.3 L538.6 183.4 L538.0 184.1 L537.0 182.9 L536.2 181.3 L536.2 179.3 L536.9 178.2 L536.8 176.9 L537.2 175.9 L537.8 174.8 L539.1 174.0 L540.0 173.8 L541.4 173.2 L542.8 172.2 L542.5 171.3 L542.1 170.2 L541.6 168.9 L541.5 168.0 L541.0 166.8 L540.7 165.9 Z"/>
<path d="M537.5 181.0 L538.4 180.1 L539.5 179.5 L539.9 178.6 L541.2 177.4 L542.1 176.8 L542.8 175.8"/>
<path d="M538.2 177.2 L538.9 176.8 L540.1 175.7 L541.3 175.2 L542.0 174.2"/>
<path d="M539.8 182.5 L540.6 181.5 L541.4 180.9 L542.0 180.0 L543.0 178.6 L543.9 178.0"/>
<path d="M549.1 175.0 L549.7 177.2 L551.3 178.2 L553.0 178.6 L555.0 177.7 L556.8 178.1 L557.1 179.6 L557.5 180.7 L558.4 180.9 L559.9 181.2 L560.8 181.5 L561.7 182.0 L562.6 183.6 L560.5 184.1 L558.8 183.0 L556.9 182.7 L555.3 182.0 L554.5 183.3 L554.6 184.1 L554.9 185.5 L554.4 186.4 L553.9 187.8 L552.3 189.1 L550.7 188.7 L549.3 189.5 L548.2 188.2 L548.8 187.7 L549.9 187.3 L550.2 185.9 L551.6 185.1 L551.5 183.9 L551.7 183.1 L550.6 181.3 L549.3 179.7 L548.9 178.5 L549.0 177.5 L548.8 176.4 Z"/>
<path d="M551.8 178.8 L552.3 180.3 L552.5 182.0 L552.7 182.9 L553.2 184.0 L553.2 185.5"/>
<path d="M555.5 181.8 L554.1 181.9 L552.5 182.5"/>
<path d="M578.0 171.2 L577.0 172.2 L576.3 173.4 L575.9 173.8 L574.6 175.2 L572.9 176.0 L571.9 176.2 L570.7 177.1 L569.9 177.8 L568.8 178.3 L568.3 179.6 L567.3 180.5 L568.5 181.9 L568.4 182.9 L568.4 183.9 L567.2 185.7 L567.6 187.2 L567.6 188.4 L568.6 188.6 L569.8 189.9 L569.8 190.7 L570.0 191.7 L570.5 193.1 L571.0 194.2 L572.2 195.2 L573.3 196.1 L574.1 197.2 L574.7 198.1 L576.2 199.4 L577.3 200.4 L578.1 201.2 L579.7 201.7 L580.6 202.1 L581.6 203.4 L583.6 201.9 L585.1 200.9 L584.2 200.0 L583.9 198.8 L581.8 199.3 L579.8 198.6 L578.6 196.8 L579.1 195.5 L579.4 194.0 L579.1 192.5 L579.4 191.5 L579.8 190.4 L580.1 189.0 L579.9 187.4 L580.2 186.3 L580.7 185.4 L581.8 184.6 L583.3 184.3 L582.0 183.4 L581.1 182.7 L579.9 182.2 L578.3 181.3 L576.3 181.7 L574.7 180.0 L574.1 178.1 L574.2 177.3 L575.3 176.0 L576.1 175.2 L576.8 173.6 L578.4 172.5 Z"/>
<path d="M569.0 179.5 L570.4 179.7 L572.1 179.4 L573.4 180.2 L574.2 180.6"/>
<path d="M569.8 182.5 L570.7 183.4 L571.8 183.9 L573.2 184.3 L574.3 184.8 L575.2 184.2 L576.5 184.0"/>
<path d="M570.9 186.2 L571.3 187.7 L571.5 189.0 L571.5 189.8 L572.3 190.9 L573.1 192.1 L573.4 193.0 L574.5 194.1 L575.3 194.8 L575.6 196.2 L576.8 197.1 L578.0 198.2"/>
<path d="M572.0 192.2 L573.0 192.7 L573.7 193.0 L574.8 193.6 L576.1 194.3 L577.2 195.2"/>
<path d="M575.0 182.5 L575.5 183.8 L575.7 185.7 L577.0 186.0 L578.0 186.2"/>
<path d="M594.0 216.0 L594.8 214.7 L597.0 215.9 L595.5 217.5 L595.0 217.2 Z"/>
<path d="M533.5 346.1 L537.0 345.6 L539.2 344.5 L538.8 342.6 L540.5 341.0 L544.0 339.7 L547.5 338.6 L551.0 338.4 L553.6 337.9 L556.2 337.1 L559.3 336.6 L561.5 337.5 L563.7 338.4 L564.6 339.7 L566.8 339.2 L569.4 337.5 L572.4 336.4 L575.5 336.2 L577.7 335.8 L580.3 334.4 L583.4 332.7 L586.9 331.4 L591.2 330.1 L596.5 328.5"/>
<path d="M556.2 337.5 L558.0 340.1 L556.2 342.8 L555.8 344.9 L558.0 344.1 L560.2 342.3 L562.4 341.0 L564.6 339.7"/>
<path d="M560.2 341.0 L561.9 343.2 L563.2 344.9 L561.5 346.2 L559.8 345.8"/>
<path d="M539.2 344.9 L540.9 346.7 L542.7 348.4 L545.3 349.3 L547.9 348.9 L550.1 350.2 L551.9 351.9 L553.6 353.7 L555.8 353.7 L558.0 352.4 L559.8 350.6 L562.4 350.2 L565.4 349.3 L564.6 348.4 L561.9 348.9 L559.8 348.4 L558.9 346.7 L560.2 345.4"/>
<path d="M567.6 340.6 L568.9 338.8 L571.1 337.9 L573.3 338.4 L572.9 340.1 L570.7 341.2 L568.5 341.4 Z"/>
<path d="M578.6 338.8 L580.3 337.5 L582.3 338.4 L582.1 340.6 L579.9 341.4 L578.1 340.6 Z"/>
<path d="M579.0 336.2 L582.5 334.4 L586.9 332.7 L591.2 330.9 L596.5 328.9"/>
<path d="M582.5 339.7 L586.0 337.9 L589.5 335.8 L593.0 334.0 L596.5 332.4"/>
<path d="M583.4 336.4 L587.8 334.3 L592.1 332.4 L596.5 330.5"/>
<path d="M586.0 336.6 L590.4 334.2 L594.8 332.2"/>
<path d="M582.5 340.1 L584.2 342.8 L586.0 344.9 L588.2 344.1 L591.2 344.9 L593.9 347.1 L592.1 348.9 L589.9 349.8 L588.2 351.9 L586.0 353.2 L585.6 355.0 L587.3 356.8 L588.2 359.4 L588.6 362.0 L589.9 363.3 L588.6 365.5 L587.8 367.7 L585.1 369.0 L583.5 369.5"/>
<path d="M586.0 344.1 L588.6 343.2 L590.8 344.5 L590.4 346.2 L587.8 346.7 L586.0 345.8 Z"/>
<path d="M590.4 346.2 L592.6 345.8 L594.3 347.3 L592.6 348.9 L590.8 348.2 Z"/>
<path d="M291.8 209.2 L293.8 208.2 L296.0 208.8 L296.6 210.4 L295.0 211.6 L292.8 211.2 Z"/>
<path d="M346.0 426.6 L343.6 429.6 L342.4 433.6 L341.4 437.6 L340.4 440.4"/>
<path d="M551.7 400.2 L550.3 404.2 L548.7 408.2 L547.7 409.8"/>
<path d="M558.7 411.2 L556.7 416.2 L554.7 420.2 L553.7 422.6"/>
<path d="M561.3 400.6 L562.3 406.2 L564.3 411.2 L565.1 417.2 L565.7 423.2"/>
<path d="M570.3 397.2 L569.7 402.2 L570.3 407.2 L572.7 412.2 L575.7 416.2 L578.3 419.2"/>
<path d="M577.1 399.2 L578.7 402.2 L580.3 404.6"/>
<path d="M581.7 396.6 L584.3 400.6 L587.1 404.2"/>
<path d="M185.6 120.4 L186.2 119.5 L187.4 119.7 L187.8 120.6 L187.1 121.4 L185.9 121.2 Z" style="fill:#000;stroke-width:0.8"/>
<path d="M202.2 126.5 L203.5 125.3 L205.5 125.5 L206.0 127.0 L204.8 128.5 L202.8 128.0 Z" style="fill:#000;stroke-width:0.8"/>
<path d="M151.8 197.8 L153.3 195.5 L154.2 197.2 L153.2 199.6 L151.8 200.0 Z" style="fill:#000;stroke-width:0.8"/>
<path d="M234.0 298.5 L235.0 297.2 L236.5 297.5 L236.8 299.0 L235.5 300.0 L234.2 299.7 Z" style="fill:#000;stroke-width:0.8"/>
<path d="M243.6 277.6 L245.0 278.3 L246.0 280.5 L245.0 281.4 L243.8 279.7 Z" style="fill:#000;stroke-width:0.8"/>
<path d="M372.6 250.4 L373.6 249.6 L374.5 250.8 L373.8 251.9 L372.9 251.7 Z" style="fill:#000;stroke-width:0.8"/>
<path d="M390.3 284.8 L391.5 284.0 L392.4 285.2 L391.2 286.0 Z" style="fill:#000;stroke-width:0.8"/>
<path d="M312.8 143.6 L315.8 141.8 L318.8 139.5 L321.8 137.6 L324.8 136.1 L325.9 136.9 L325.1 138.0 L327.0 137.2 L328.9 135.4 L330.8 133.5 L331.9 133.9 L330.4 136.1 L328.5 138.4 L325.9 139.9 L322.9 141.0 L320.2 142.5 L318.0 144.8 L316.5 146.1 L315.6 145.5 L316.9 143.6 L315.0 143.8 L313.1 144.2 Z" style="fill:#000;stroke-width:0.8"/>
<path d="M595.1 133.1 L596.1 132.8 L596.6 133.9 L596.1 135.0 L595.2 134.6 Z" style="fill:#000;stroke-width:0.8"/>
</g>
</g>
<rect x="15.5" y="110.5" width="581.0" height="380.0" fill="none" stroke="#000" stroke-width="1.11"/>
<rect x="617.5" y="158.5" width="18" height="284.5" fill="url(#gG)" stroke="#000" stroke-width="1.11"/>
<rect x="670.5" y="158.5" width="17" height="284.5" fill="url(#gB)" stroke="#000" stroke-width="1.11"/>
<text x="625.9" y="148.6" text-anchor="middle" font-size="15.9">New</text>
<text x="678.6" y="148.6" text-anchor="middle" font-size="15.9">Old</text>
<line class="tick" x1="687.5" y1="158.50" x2="692.4" y2="158.50"/>
<text class="tl" x="698.05" y="166.00">30</text>
<line class="tick" x1="687.5" y1="205.50" x2="692.4" y2="205.50"/>
<text class="tl" x="698.05" y="214.00">25</text>
<line class="tick" x1="687.5" y1="253.50" x2="692.4" y2="253.50"/>
<text class="tl" x="698.05" y="262.00">20</text>
<line class="tick" x1="687.5" y1="300.50" x2="692.4" y2="300.50"/>
<text class="tl" x="698.05" y="309.00">15</text>
<line class="tick" x1="687.5" y1="348.50" x2="692.4" y2="348.50"/>
<text class="tl" x="698.05" y="356.00">10</text>
<line class="tick" x1="687.5" y1="395.50" x2="692.4" y2="395.50"/>
<text class="tl" x="698.05" y="404.00">5</text>
<line class="tick" x1="687.5" y1="443.30" x2="692.4" y2="443.30"/>
<text class="tl" x="698.05" y="452.00">0</text>
<text font-size="22.22" text-anchor="middle" transform="translate(749.8 302.75) rotate(-90)">mg/m^3</text>
</svg></body></html>
